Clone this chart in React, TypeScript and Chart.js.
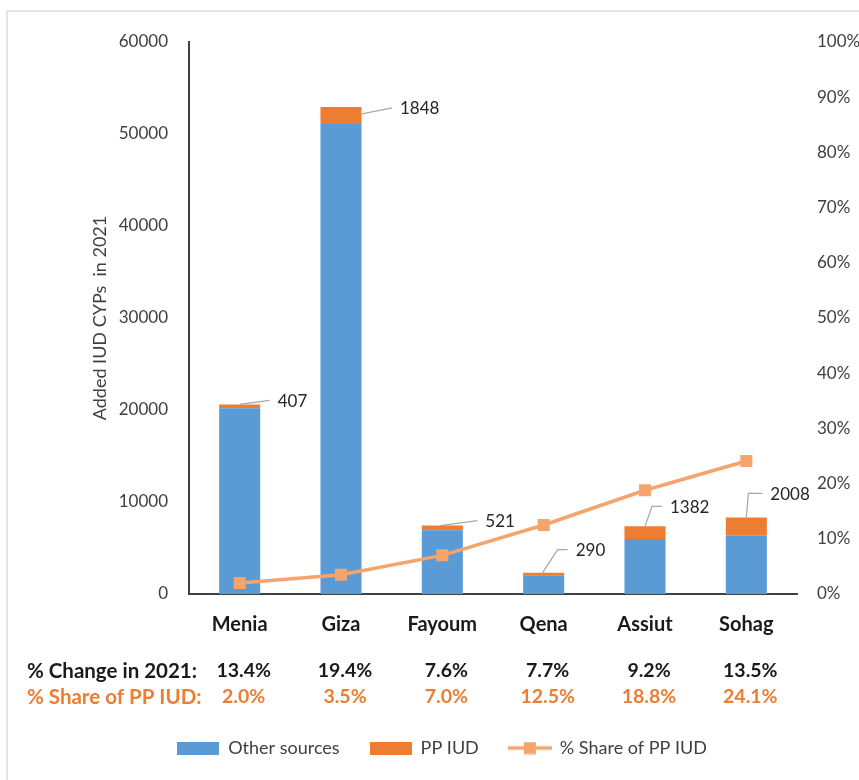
import React, { useEffect, useRef } from "react";
import { Chart, registerables } from "chart.js";

Chart.register(...registerables);

// ---- data ----
const categories = ["Menia", "Giza", "Fayoum", "Qena", "Assiut", "Sohag"];
const otherSources = [20200, 51100, 6920, 2030, 5970, 6320];
const ppIud = [407, 1848, 521, 290, 1382, 2008];
const sharePpIud = [2.0, 3.5, 7.0, 12.5, 18.8, 24.1];
const changeIn2021 = [13.4, 19.4, 7.6, 7.7, 9.2, 13.5];
const leftAxis = { min: 0, max: 60000, step: 10000 };
const rightAxis = { min: 0, max: 100, step: 10 };
const rowLabels = ["% Change in 2021:", "% Share of PP IUD:"];

// ---- styles ----
const FONT = "Lato, 'Open Sans', sans-serif";
const BLUE = "#5B9BD5";
const ORANGE = "#ED7D31";
const LINE = "#F4A46C";
const TEXT = "#404040";
// leader-line paths for PP IUD labels, relative to bar top-centre (style, not data)
const leaderPaths: number[][][] = [
  [[0, 0], [30, -4]],
  [[21, 7], [51, 1]],
  [[-2, 0], [35, -5]],
  [[-1, 0], [14, -23], [24, -23]],
  [[0, 0], [7, -20], [17, -20]],
  [[0, 0], [2, -24], [16, -24]],
];

function makeBox(color: string, w: number, h: number) {
  const c = document.createElement("canvas");
  c.width = w;
  c.height = h;
  const g = c.getContext("2d")!;
  g.fillStyle = color;
  g.fillRect(0, 0, w, h);
  return c;
}
function makeLineIcon(color: string, w: number, h: number) {
  const c = document.createElement("canvas");
  c.width = w;
  c.height = h;
  const g = c.getContext("2d")!;
  g.strokeStyle = color;
  g.lineWidth = 3.5;
  g.beginPath();
  g.moveTo(0, h / 2);
  g.lineTo(w, h / 2);
  g.stroke();
  g.fillStyle = color;
  g.fillRect(w / 2 - 6, h / 2 - 6, 12, 12);
  return c;
}

const labelPlugin = {
  id: "ppLabels",
  afterDatasetsDraw(chart: any) {
    const ctx = chart.ctx;
    const meta = chart.getDatasetMeta(1);
    ctx.save();
    meta.data.forEach((el: any, i: number) => {
      const path = leaderPaths[i];
      const x0 = el.x;
      const y0 = el.y;
      ctx.strokeStyle = "#a6a6a6";
      ctx.lineWidth = 1.2;
      ctx.beginPath();
      path.forEach((p, k) => {
        if (k === 0) ctx.moveTo(x0 + p[0], y0 + p[1]);
        else ctx.lineTo(x0 + p[0], y0 + p[1]);
      });
      ctx.stroke();
      const last = path[path.length - 1];
      ctx.fillStyle = "#262626";
      ctx.font = `17px ${FONT}`;
      ctx.textAlign = "left";
      ctx.textBaseline = "middle";
      ctx.fillText(String(ppIud[i]), x0 + last[0] + 8, y0 + last[1] + 1);
    });
    ctx.restore();
  },
};

const tablePlugin = {
  id: "table",
  afterDraw(chart: any) {
    const ctx = chart.ctx;
    const xs = chart.scales.x;
    const base = chart.chartArea.bottom;
    const rows = [
      { label: rowLabels[0], vals: changeIn2021, color: "#1a1a1a", dy: 77 },
      { label: rowLabels[1], vals: sharePpIud, color: ORANGE, dy: 103 },
    ];
    ctx.save();
    ctx.textBaseline = "middle";
    rows.forEach((r) => {
      ctx.fillStyle = r.color;
      ctx.font = `bold 20.5px ${FONT}`;
      ctx.textAlign = "left";
      ctx.fillText(r.label, 27, base + r.dy);
      ctx.font = `bold 19.5px ${FONT}`;
      ctx.textAlign = "center";
      r.vals.forEach((v, i) => {
        ctx.fillText(v.toFixed(1) + "%", xs.getPixelForValue(i) + 4, base + r.dy);
      });
    });
    ctx.restore();
  },
};

export default function App() {
  const ref = useRef<HTMLCanvasElement>(null);
  useEffect(() => {
    if (!ref.current) return;
    const icons = [makeBox(BLUE, 42, 13), makeBox(ORANGE, 42, 13), makeLineIcon(LINE, 44, 13)];
    const chart = new Chart(ref.current, {
      type: "bar",
      data: {
        labels: categories,
        datasets: [
          {
            type: "bar",
            label: "Other sources",
            data: otherSources,
            backgroundColor: BLUE,
            yAxisID: "y",
            order: 2,
            categoryPercentage: 1,
            barPercentage: 0.405,
          },
          {
            type: "bar",
            label: "PP IUD",
            data: ppIud,
            backgroundColor: ORANGE,
            yAxisID: "y",
            order: 2,
            categoryPercentage: 1,
            barPercentage: 0.405,
          },
          {
            type: "line",
            label: "% Share of PP IUD",
            data: sharePpIud,
            borderColor: LINE,
            backgroundColor: LINE,
            borderWidth: 3.5,
            pointStyle: "rect",
            pointRadius: 8.5,
            pointBackgroundColor: LINE,
            pointBorderWidth: 0,
            yAxisID: "y1",
            order: 0,
            tension: 0,
          } as any,
        ],
      },
      options: {
        animation: false,
        responsive: false,
        devicePixelRatio: 1,
        layout: { padding: { left: 25, right: 0, top: 42, bottom: 13 } },
        plugins: {
          tooltip: { enabled: false },
          legend: {
            position: "bottom",
            labels: {
              usePointStyle: true,
              pointStyleWidth: 42,
              boxHeight: 13,
              padding: 30,
              color: TEXT,
              font: { family: FONT, size: 18 },
              generateLabels: (ch: any) =>
                ch.data.datasets.map((d: any, i: number) => ({
                  text: d.label,
                  fillStyle: i === 0 ? BLUE : i === 1 ? ORANGE : LINE,
                  strokeStyle: "transparent",
                  lineWidth: 0,
                  pointStyle: icons[i],
                  hidden: false,
                  datasetIndex: i,
                  fontColor: TEXT,
                })),
            },
          },
        },
        scales: {
          x: {
            stacked: true,
            grid: { display: false, drawTicks: false },
            border: { display: true, color: TEXT, width: 2 },
            ticks: { color: "#1a1a1a", font: { family: FONT, size: 20, weight: "bold" }, padding: 19 },
            afterFit: (s: any) => {
              s.height = 115;
            },
          },
          y: {
            stacked: true,
            min: leftAxis.min,
            max: leftAxis.max,
            grid: { display: false, drawTicks: false },
            border: { display: true, color: TEXT, width: 2 },
            ticks: {
              stepSize: leftAxis.step,
              color: TEXT,
              font: { family: FONT, size: 17 },
              padding: 21,
              callback: (v: any) => String(v),
            },
            title: {
              display: true,
              text: "Added IUD CYPs  in 2021",
              color: TEXT,
              font: { family: FONT, size: 18 },
              padding: { top: 64, bottom: 0 },
            },
            afterFit: (s: any) => {
              s.width = 164;
            },
          },
          y1: {
            position: "right",
            min: rightAxis.min,
            max: rightAxis.max,
            grid: { display: false, drawTicks: false },
            border: { display: false },
            ticks: {
              stepSize: rightAxis.step,
              color: TEXT,
              font: { family: FONT, size: 17 },
              padding: 20,
              callback: (v: any) => v + "%",
            },
            afterFit: (s: any) => {
              s.width = 62;
            },
          },
        },
      } as any,
      plugins: [labelPlugin, tablePlugin],
    });
    return () => chart.destroy();
  }, []);

  return (
    <div style={{ position: "absolute", left: 0, top: 0, width: 859, height: 780, overflow: "hidden", background: "#fff" }}>
      <div
        style={{
          position: "absolute",
          left: 6,
          top: 10,
          width: 900,
          height: 900,
          borderLeft: "2px solid #e4e4e4",
          borderTop: "2px solid #e4e4e4",
        }}
      />
      <canvas ref={ref} width={859} height={780} style={{ position: "absolute", left: 0, top: 0 }} />
    </div>
  );
}
